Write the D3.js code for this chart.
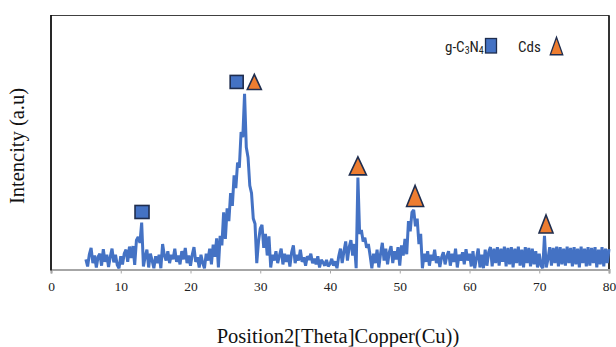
<!DOCTYPE html>
<html><head><meta charset="utf-8">
<script src="https://cdn.jsdelivr.net/npm/d3@7"></script>
<style>html,body{margin:0;padding:0;background:#fff;} svg{display:block;}</style>
</head><body>
<svg id="chart" width="616" height="347"></svg>
<script>
// ---- data ----
const twoTheta = [
 5,5.25,5.5,5.75, 6,6.25,6.5,6.75, 7,7.25,7.5,7.75, 8,8.25,8.5,8.75, 9,9.25,9.5,9.75,
 10,10.25,10.5,10.75, 11,11.25,11.5,11.75, 12,12.25,12.5,12.75, 13,13.25,13.5,13.75, 14,14.25,14.5,14.75,
 15,15.25,15.5,15.75, 16,16.25,16.5,16.75, 17,17.25,17.5,17.75, 18,18.25,18.5,18.75, 19,19.25,19.5,19.75,
 20,20.25,20.5,20.75, 21,21.25,21.5,21.75, 22,22.25,22.5,22.75, 23,23.25,23.5,23.75, 24,24.25,24.5,24.75,
 25,25.25,25.5,25.75, 26,26.25,26.5,26.75, 27,27.25,27.5,27.75, 28,28.25,28.5,28.75, 29,29.25,29.5,29.75,
 30,30.25,30.5,30.75, 31,31.25,31.5,31.75, 32,32.25,32.5,32.75, 33,33.25,33.5,33.75, 34,34.25,34.5,34.75,
 35,35.25,35.5,35.75, 36,36.25,36.5,36.75, 37,37.25,37.5,37.75, 38,38.25,38.5,38.75, 39,39.25,39.5,39.75,
 40,40.25,40.5,40.75, 41,41.25,41.5,41.75, 42,42.25,42.5,42.75, 43,43.25,43.5,43.75, 44,44.25,44.5,44.75,
 45,45.25,45.5,45.75, 46,46.25,46.5,46.75, 47,47.25,47.5,47.75, 48,48.25,48.5,48.75, 49,49.25,49.5,49.75,
 50,50.25,50.5,50.75, 51,51.25,51.5,51.75, 52,52.25,52.5,52.75, 53,53.25,53.5,53.75, 54,54.25,54.5,54.75,
 55,55.25,55.5,55.75, 56,56.25,56.5,56.75, 57,57.25,57.5,57.75, 58,58.25,58.5,58.75, 59,59.25,59.5,59.75,
 60,60.25,60.5,60.75, 61,61.25,61.5,61.75, 62,62.25,62.5,62.75, 63,63.25,63.5,63.75, 64,64.25,64.5,64.75,
 65,65.25,65.5,65.75, 66,66.25,66.5,66.75, 67,67.25,67.5,67.75, 68,68.25,68.5,68.75, 69,69.25,69.5,69.75,
 70,70.25,70.5,70.75, 71,71.25,71.5,71.75, 72,72.25,72.5,72.75, 73,73.25,73.5,73.75, 74,74.25,74.5,74.75,
 75,75.25,75.5,75.75, 76,76.25,76.5,76.75, 77,77.25,77.5,77.75, 78,78.25,78.5,78.75, 79,79.25,79.5,79.75,
 80
];
const intensity = [
 40,12,60,85, 25,55,8,50, 62,15,80,30, 58,10,50,82, 28,58,18,5,
 52,20,62,78, 30,90,45,92, 18,115,128,105, 184,12,50,78, 8,62,35,5,
 52,25,58,5, 100,55,35,72, 25,58,40,82, 30,55,20,72, 40,85,25,55,
 15,58,88,30, 48,8,58,25, 5,62,35,82, 20,98,50,122, 8,132,95,225,
 120,240,190,300, 250,370,320,420, 400,540,520,690, 480,440,330,300, 200,180,25,110,
 160,175,85,140, 55,130,8,58, 35,72,25,55, 82,20,62,30, 58,12,68,95,
 25,58,35,78, 30,48,15,52, 38,62,25,42, 20,52,8,38, 28,15,38,12,
 22,42,15,32, 5,52,82,25, 72,110,35,88, 115,55,100,5, 361,140,155,110,
 125,85,100,55, 5,62,25,78, 8,62,105,35, 82,20,68,92, 25,72,40,88,
 15,95,55,120, 60,190,150,225, 234,170,200,100, 140,5,62,30, 72,15,58,35,
 78,25,52,10, 48,68,20,52, 72,15,62,30, 82,8,58,35, 68,20,80,35,
 62,12,72,5, 45,82,8,58, 5,78,15,68, 88,12,82,25, 88,15,82,30,
 90,12,85,20, 88,8,82,25, 90,15,78,8, 88,25,85,12, 82,20,72,8,
 62,15,5,132, 8,40,88,15, 85,25,90,12, 88,20,82,15, 90,25,85,12,
 88,20,82,8, 90,25,82,12, 88,15,85,25, 88,8,78,20, 88,12,82,25,
 80
];
const xTicks = [0,10,20,30,40,50,60,70,80];
const gcnMarkerTheta = [13.05, 26.62];
const gcnMarkerLevel = [226, 737];
const cdsMarkerTheta = [29.15, 44.0, 52.2, 70.97];
const cdsMarkerLevel = [737, 407, 289, 179];
const xTitle = "Position2[Theta]Copper(Cu))";
const yTitle = "Intencity (a.u)";

// ---- style ----
const lineColor = "#4472C4", squareFill = "#4472C4", triFill = "#ED7D31", markerStroke = "#1F2D4E";
const gcnSize = [[14,13],[13,13]];
const cdsSize = [[14,15],[17,18],[17,21],[14,18]];

const svg = d3.select("#chart");
const x = d3.scaleLinear().domain([0,80]).range([51,609]);
const y = d3.scaleLinear().domain([0,1000]).range([269.5,15]);

// plot frame
svg.append("rect").attr("x",51).attr("y",15.5).attr("width",558).attr("height",254)
  .attr("fill","none").attr("stroke","#404040").attr("stroke-width",1);
svg.append("line").attr("x1",609).attr("x2",609).attr("y1",15.5).attr("y2",269.5)
  .attr("stroke","#111").attr("stroke-width",1.5);

// data line
const line = d3.line().x((d,i)=>x(twoTheta[i])).y(d=>y(d));
svg.append("path").datum(intensity).attr("d",line).attr("fill","none")
  .attr("stroke",lineColor).attr("stroke-width",3).attr("stroke-linejoin","miter").attr("stroke-miterlimit",2);

// x axis
const xAxis = d3.axisBottom(x).tickValues(xTicks).tickSize(4).tickPadding(8).tickFormat(d3.format("d"));
const gx = svg.append("g").attr("transform","translate(0,269.5)").call(xAxis);
gx.select(".domain").attr("stroke","#A6A6A6").attr("stroke-width",2.2);
gx.selectAll(".tick line").attr("stroke","#A6A6A6").attr("stroke-width",1);
gx.selectAll(".tick text").attr("font-family","'Liberation Serif','Times New Roman',serif")
  .attr("font-size",13.5).attr("fill","#222");

// y axis line
svg.append("line").attr("x1",51).attr("x2",51).attr("y1",15).attr("y2",270.5)
  .attr("stroke","#000").attr("stroke-width",1.5);

// markers
gcnMarkerTheta.forEach((t,i)=>{
  const [w,h] = gcnSize[i];
  svg.append("rect").attr("x",x(t)-w/2).attr("y",y(gcnMarkerLevel[i])-h/2).attr("width",w).attr("height",h)
    .attr("fill",squareFill).attr("stroke",markerStroke).attr("stroke-width",1.6);
});
function tri(cx,cy,w,h){return `M${cx},${cy-h/2}L${cx+w/2},${cy+h/2}L${cx-w/2},${cy+h/2}Z`;}
cdsMarkerTheta.forEach((t,i)=>{
  const [w,h] = cdsSize[i];
  svg.append("path").attr("d",tri(x(t),y(cdsMarkerLevel[i]),w,h))
    .attr("fill",triFill).attr("stroke",markerStroke).attr("stroke-width",1.6).attr("stroke-linejoin","miter");
});

// legend
const lg = svg.append("g");
const lt = lg.append("text").attr("x",445).attr("y",51.5)
  .attr("font-family","'Liberation Sans Narrow','Roboto Condensed','Liberation Sans',sans-serif").attr("font-size",15).attr("fill","#222");
lt.append("tspan").text("g-C");
lt.append("tspan").attr("font-size",10).attr("dy",2).text("3");
lt.append("tspan").attr("dy",-2).text("N");
lt.append("tspan").attr("font-size",10).attr("dy",2).text("4");
lg.append("rect").attr("x",485.5).attr("y",38.5).attr("width",11).attr("height",14.5)
  .attr("fill",squareFill).attr("stroke",markerStroke).attr("stroke-width",1.3);
lg.append("text").attr("x",518).attr("y",51.5)
  .attr("font-family","'Liberation Sans Narrow','Roboto Condensed','Liberation Sans',sans-serif").attr("font-size",15).attr("fill","#222").text("Cds");
lg.append("path").attr("d",tri(556.5,46,12.5,17.5)).attr("fill",triFill).attr("stroke",markerStroke).attr("stroke-width",1.3);

// titles
svg.append("text").attr("x",338).attr("y",343).attr("text-anchor","middle")
  .attr("font-family","'Liberation Serif','Times New Roman',serif").attr("font-size",20.5).attr("fill","#111").text(xTitle);
svg.append("text").attr("transform","translate(24,146) rotate(-90)").attr("text-anchor","middle")
  .attr("font-family","'Liberation Serif','Times New Roman',serif").attr("font-size",20.5).attr("fill","#111").text(yTitle);
</script>
</body></html>
